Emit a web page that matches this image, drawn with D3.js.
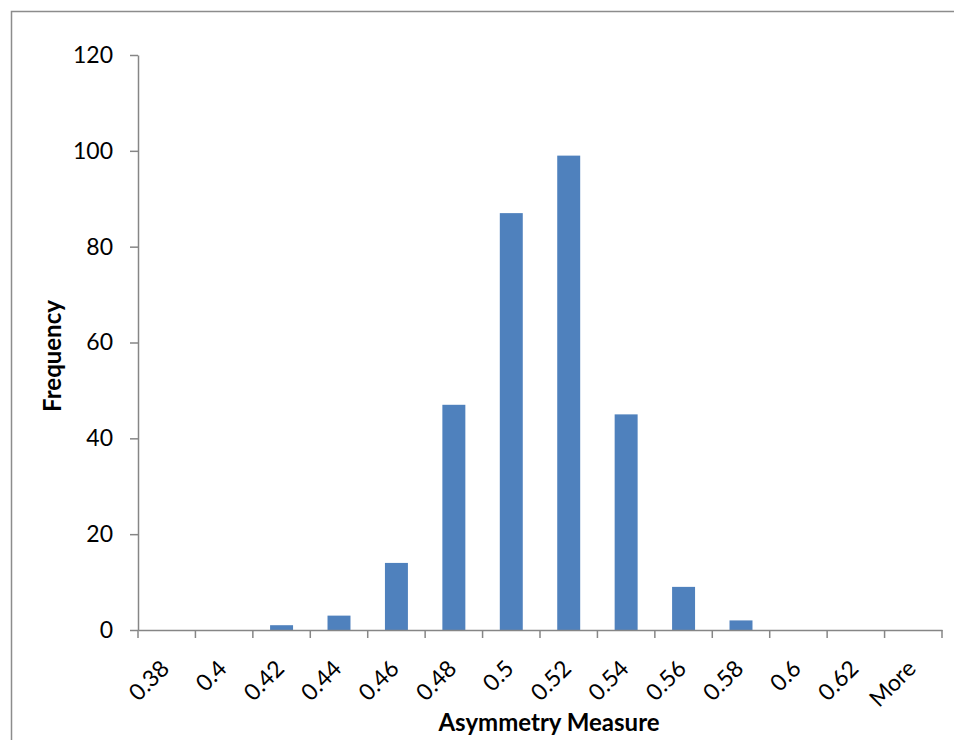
<!DOCTYPE html>
<html><head><meta charset="utf-8">
<script src="https://cdn.jsdelivr.net/npm/d3@7"></script>
<style>body{margin:0;background:#fff}</style>
</head><body>
<svg id="c" width="954" height="740"></svg>
<script>
const categories = ["0.38","0.4","0.42","0.44","0.46","0.48","0.5","0.52","0.54","0.56","0.58","0.6","0.62","More"];
const frequency = [0,0,1,3,14,47,87,99,45,9,2,0,0,0];
const yTicks = [0,20,40,60,80,100,120];

const svg = d3.select("#c");
const font = "Lato, 'Open Sans', sans-serif";
const m = {left:138, right:942, top:55, bottom:630};

svg.append("rect").attr("x",11.5).attr("y",11.5).attr("width",1000).attr("height",1000)
  .attr("fill","none").attr("stroke","#8c8c8c").attr("stroke-width",1.5);

const x = d3.scaleBand().domain(categories).range([m.left,m.right]).paddingInner(0.6).paddingOuter(0.3);
const y = d3.scaleLinear().domain([0,120]).range([m.bottom,m.top]);

svg.selectAll("rect.bar").data(frequency).enter().append("rect").attr("class","bar")
  .attr("x",(d,i)=>x(categories[i])).attr("width",x.bandwidth())
  .attr("y",d=>y(d)).attr("height",d=>y(0)-y(d)).attr("fill","#4F81BD");

// y axis
const ya = svg.append("g").attr("transform",`translate(${m.left},0)`)
  .call(d3.axisLeft(y).tickValues(yTicks).tickSize(8).tickPadding(17).tickSizeOuter(0));
ya.select(".domain").attr("stroke","#868686").attr("stroke-width",1.5);
ya.selectAll(".tick line").attr("stroke","#868686").attr("stroke-width",1.5);
ya.selectAll("text").attr("font-family",font).attr("font-size",23).attr("fill","#000");

// x axis
const xb = d3.scaleBand().domain(categories).range([m.left,m.right]);
const xa = svg.append("g").attr("transform",`translate(0,${m.bottom})`)
  .call(d3.axisBottom(xb).tickSize(0).tickSizeOuter(0));
xa.select(".domain").attr("stroke","#868686").attr("stroke-width",1.5);
xa.selectAll(".tick line").remove();
const bounds = categories.map(c=>xb(c)).concat([m.right]);
xa.selectAll("line.bt").data(bounds).enter().append("line").attr("class","bt")
  .attr("x1",d=>d).attr("x2",d=>d).attr("y1",0).attr("y2",8)
  .attr("stroke","#868686").attr("stroke-width",1.5);
xa.selectAll(".tick text").attr("font-family",font).attr("font-size",23).attr("fill","#000")
  .attr("text-anchor","end").attr("dy",0).attr("y",0)
  .attr("transform","translate(4,40) rotate(-45)");

svg.append("text").attr("x",549).attr("y",731).attr("text-anchor","middle")
  .attr("font-family",font).attr("font-weight","bold").attr("font-size",24).text("Asymmetry Measure");
svg.append("text").attr("transform","translate(61,356) rotate(-90)").attr("text-anchor","middle")
  .attr("font-family",font).attr("font-weight","bold").attr("font-size",24).text("Frequency");
</script>
</body></html>
